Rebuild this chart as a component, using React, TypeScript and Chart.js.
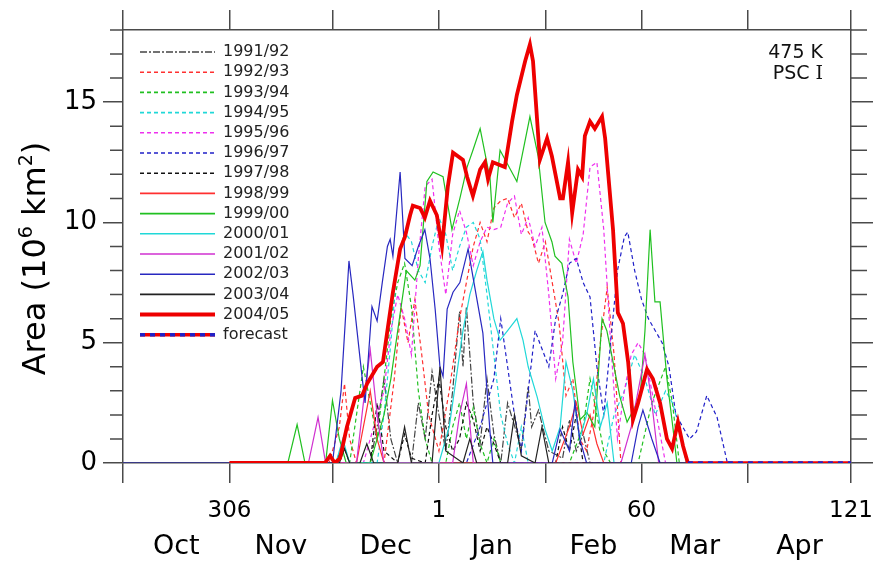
import { useEffect, useRef } from 'react';
import { Chart, registerables } from 'chart.js';

Chart.register(...registerables);

// x = days since 1 Oct 2004 (1 Oct = 0, 1 Nov = 31, 1 Jan = 92, 1 Mar = 151, 1 May = 212)
const MONTH_EDGES = [0, 31, 61, 92, 123, 151, 182, 212];
const DOY_LABELS = ['', '306', '', '1', '', '60', '', '121'];
const MONTH_MIDS = [15.5, 46, 76.5, 107.5, 137, 166.5, 197];
const MONTH_NAMES = ['Oct', 'Nov', 'Dec', 'Jan', 'Feb', 'Mar', 'Apr'];
const Y_MAJOR = [0, 5, 10, 15];
const Y_MINOR = [1, 2, 3, 4, 6, 7, 8, 9, 11, 12, 13, 14, 16, 17, 18];
const SEASONS = ['1991/92', '1992/93', '1993/94', '1994/95', '1995/96', '1996/97', '1997/98', '1998/99', '1999/00', '2000/01', '2001/02', '2002/03', '2003/04', '2004/05', 'forecast'];

const days9192 = [31, 72, 74, 76, 78, 80, 84, 86, 88, 90, 92, 94, 96, 98, 99, 100, 102, 104, 106, 108, 110, 112, 116, 118, 119, 121, 124, 128, 130, 132, 134, 136, 212];
const area9192 = [0, 0, 1.5, 3.5, 1.0, 0, 0, 2.5, 1.0, 3.8, 2.0, 0.5, 3.0, 6.3, 4.0, 6.5, 2.5, 0.8, 3.5, 1.2, 0, 2.5, 0.6, 3.2, 1.5, 2.2, 0.5, 0.2, 1.8, 0.5, 1.2, 0, 0];

const days9293 = [31, 60, 63, 64.5, 66, 68, 76, 79, 81, 83, 85, 87, 89, 92, 95, 98, 100, 102, 104, 106, 108, 110, 112, 114, 116, 118, 119, 121, 123, 125, 127, 129, 131, 133, 135, 137, 139, 141, 143, 145, 212];
const area9293 = [0, 0, 1.5, 3.3, 1.0, 0, 0, 3.5, 6.5, 5.0, 6.8, 4.5, 2.0, 0.5, 3.0, 6.0, 7.5, 9.0, 10.0, 9.2, 10.6, 10.9, 11.0, 10.2, 10.8, 9.6, 9.4, 8.3, 9.2, 7.5, 5.8, 2.8, 3.5, 1.0, 0.5, 2.0, 5.0, 7.3, 4.5, 0, 0];

const days9394 = [31, 66, 68, 70, 72, 74, 76, 78, 80, 82, 84, 86, 88, 90, 94, 96, 98, 100, 102, 104, 106, 108, 110, 130, 134, 136, 138, 140, 142, 150, 154, 158, 160, 162, 212];
const area9394 = [0, 0, 2.0, 4.0, 2.5, 1.0, 3.5, 6.0, 7.5, 8.3, 6.5, 3.0, 1.0, 0, 0, 1.5, 2.5, 1.0, 2.3, 0.8, 0, 1.0, 0, 0, 1.5, 3.5, 2.0, 0.5, 0, 0, 2.5, 4.0, 2.5, 0, 0];

const days9495 = [31, 74, 76, 78, 80, 82, 84, 86, 88, 90, 92, 94, 96, 98, 100, 102, 104, 106, 108, 110, 112, 114, 116, 118, 140, 143, 146, 149, 152, 155, 158, 160, 162, 164, 212];
const area9495 = [0, 0, 2.0, 5.0, 8.5, 9.6, 9.2, 8.0, 7.5, 9.0, 10.2, 9.5, 8.0, 9.0, 9.8, 10.0, 9.3, 7.0, 4.5, 2.0, 0.8, 0, 1.5, 0, 0, 2.0, 3.0, 4.5, 3.5, 2.0, 3.0, 2.5, 1.5, 0, 0];

const days9596 = [31, 70, 73, 76, 78, 80, 82, 84, 86, 88, 90, 92, 94, 96, 98, 100, 102, 104, 106, 108, 110, 112, 114, 116, 118, 120, 122, 124, 126, 128, 130, 132, 134, 136, 138, 140, 142, 144, 146, 148, 150, 152, 154, 156, 158, 212];
const area9596 = [0, 0, 1.5, 3.0, 5.5, 7.0, 6.0, 4.5, 8.5, 11.5, 11.8, 9.0, 7.0, 9.5, 10.5, 9.6, 8.2, 9.2, 9.8, 9.7, 9.8, 10.8, 11.1, 9.5, 10.2, 9.0, 9.8, 7.0, 3.5, 5.0, 9.3, 8.3, 9.5, 12.3, 12.5, 9.7, 5.0, 1.0, 3.0, 4.5, 5.0, 4.5, 3.0, 1.5, 0, 0];

const days9697 = [31, 100, 104, 108, 110, 112, 114, 116, 118, 120, 124, 126, 128, 130, 132, 134, 136, 138, 140, 142, 144, 146, 147, 149, 151, 153, 155, 157, 159, 161, 163, 165, 167, 170, 173, 176, 212];
const area9697 = [0, 0, 1.5, 3.5, 6.0, 4.0, 2.0, 0.5, 3.0, 5.5, 4.0, 6.0, 7.0, 8.3, 8.5, 7.5, 6.9, 4.0, 2.0, 5.0, 8.0, 9.4, 9.6, 8.0, 6.8, 6.0, 5.5, 5.0, 4.0, 2.0, 1.5, 1.0, 1.3, 2.8, 1.9, 0, 0];

const days9798 = [31, 62, 64, 66, 72, 74, 76, 80, 82, 84, 88, 90, 92, 94, 96, 98, 100, 102, 104, 106, 108, 110, 126, 128, 130, 132, 134, 212];
const area9798 = [0, 0, 0.8, 0, 0, 2.5, 0.5, 0, 1.2, 0.2, 0, 2.0, 3.5, 1.5, 0.5, 1.0, 2.5, 1.8, 0.5, 1.5, 0.8, 0, 0, 1.5, 0.5, 2.0, 0, 0];

const days9899 = [31, 68, 70, 72, 74, 76, 126, 130, 132, 134, 136, 138, 140, 212];
const area9899 = [0, 0, 1.5, 3.0, 1.0, 0, 0, 1.5, 2.5, 1.2, 2.0, 0.8, 0, 0];

const days9900 = [31, 48, 50.7, 53, 59, 61, 63, 65, 72, 76, 78, 80, 82.5, 85, 86.5, 88.5, 90.3, 93.2, 95.8, 98.1, 100.2, 101.9, 104, 106.9, 107.7, 109.8, 114.7, 118.5, 120.9, 122.9, 124.9, 125.8, 127.8, 129.6, 131, 133.1, 135.1, 137.4, 139.5, 140.9, 142.7, 144.7, 146.8, 150.6, 152, 153.5, 154.9, 156.4, 158.4, 160.2, 161.3, 212];
const area9900 = [0, 0, 1.6, 0, 0, 2.6, 1.0, 0, 0, 2.0, 3.5, 5.5, 8.0, 7.6, 8.2, 11.7, 12.1, 11.9, 9.7, 11.0, 12.3, 13.0, 13.9, 11.8, 10.0, 13.0, 11.7, 14.4, 12.75, 10.0, 9.2, 8.6, 8.3, 6.9, 4.2, 1.8, 2.1, 1.5, 6.0, 5.5, 4.2, 2.75, 1.7, 2.75, 5.5, 9.7, 6.7, 6.7, 3.5, 1.4, 0, 0];

const days0001 = [31, 62, 64, 66, 92, 95, 97, 99, 101, 103, 104.8, 106, 108, 109.8, 112, 114.7, 116.5, 118, 120.6, 122.9, 125, 127.3, 129, 131, 133, 135, 137, 139, 141, 143, 212];
const area0001 = [0, 0, 1.0, 0, 0, 1.5, 3.5, 5.5, 7.0, 8.0, 8.8, 7.6, 6.0, 5.1, 5.5, 6.0, 5.1, 4.0, 2.75, 1.4, 0.5, 1.5, 4.2, 3.0, 1.0, 2.0, 3.5, 1.5, 2.5, 0, 0];

const days0102 = [31, 54, 56.8, 59, 68, 70, 72, 74, 76, 96, 98, 100, 102, 145, 148, 150, 152, 154, 156, 212];
const area0102 = [0, 0, 1.9, 0, 0, 2.5, 4.7, 2.0, 0, 0, 2.0, 3.3, 0, 0, 1.5, 3.0, 4.5, 2.5, 0, 0];

const days0203 = [0, 61, 63.5, 65.8, 67, 69.6, 70.5, 72.5, 74, 75.5, 77, 77.8, 78.6, 80.7, 82.1, 84.2, 86, 87.9, 89.4, 90.9, 92.3, 93.2, 94.4, 96.1, 98.1, 100.5, 101.9, 104.8, 106.9, 107.7, 125, 127.3, 130, 131.6, 133, 135, 148, 150, 151.4, 154, 156.4, 212];
const area0203 = [0, 0, 3.0, 8.4, 7.0, 3.6, 2.5, 6.5, 5.9, 7.5, 9.0, 9.3, 8.6, 12.1, 8.5, 8.2, 9.0, 9.7, 8.5, 6.4, 4.0, 3.6, 6.4, 7.1, 7.5, 8.9, 7.75, 5.4, 1.25, 0, 0, 1.4, 0.5, 2.5, 1.0, 0, 0, 1.5, 2.2, 1.0, 0, 0];

const days0304 = [31, 63, 64.5, 66, 69, 71, 73, 80, 82, 84, 90, 92.3, 94, 99, 101, 103, 112, 114, 116, 120, 122, 124, 212];
const area0304 = [0, 0, 0.6, 0, 0, 0.8, 0, 0, 1.5, 0, 0, 4.0, 0.5, 0, 1.0, 0, 0, 2.0, 0.3, 0, 1.5, 0, 0];

const days0405 = [31, 58.8, 60.3, 61.7, 63.2, 65.2, 67.6, 69.6, 71.1, 74, 75.7, 76.9, 78.6, 80.7, 82.1, 83.6, 84.4, 86.5, 87.9, 89.4, 91.4, 92.9, 94.6, 96.1, 99, 100.2, 101.9, 104, 105.4, 106.3, 107.7, 111.2, 113.3, 114.7, 117.1, 118.5, 119.4, 121.4, 123.5, 124.9, 127.3, 128.1, 129.6, 130.8, 132.5, 133.7, 134.5, 136, 137.4, 139.5, 140.4, 142.7, 144.1, 145.6, 147.1, 148.5, 150, 152.6, 154.3, 156.4, 158.4, 159.9, 161.6, 163.1, 164.5];
const area0405 = [0, 0, 0.3, 0, 0.2, 1.5, 2.7, 2.8, 3.3, 4.0, 4.2, 5.4, 7.1, 8.9, 9.4, 10.3, 10.7, 10.6, 10.2, 10.9, 10.3, 9.0, 11.5, 12.9, 12.6, 11.9, 11.1, 12.2, 12.5, 11.8, 12.5, 12.3, 14.2, 15.3, 16.7, 17.4, 16.7, 12.6, 13.5, 12.75, 11.0, 11.0, 12.5, 10.4, 12.2, 11.9, 13.6, 14.2, 13.9, 14.4, 13.5, 9.7, 6.25, 5.8, 4.2, 1.8, 2.5, 3.9, 3.5, 2.5, 1.0, 0.6, 1.7, 0.7, 0];

const daysForecast = [164.5, 212];
const areaForecast = [0, 0];

const HIST_DAYS = [days9192, days9293, days9394, days9495, days9596, days9697, days9798, days9899, days9900, days0001, days0102, days0203, days0304];
const HIST_AREA = [area9192, area9293, area9394, area9495, area9596, area9697, area9798, area9899, area9900, area0001, area0102, area0203, area0304];

const COLORS = ['#444444', '#ff3030', '#20c020', '#20d8d8', '#ee30ee', '#2020c8', '#111111', '#ff3030', '#20c020', '#20d8d8', '#d030d0', '#2828c0', '#222222', '#ee0000'];
const DASHES: number[][] = [[7, 2, 2, 2], [4, 3], [4, 3], [4, 3], [4, 3], [4, 3], [4, 3], [], [], [], [], [], [], []];
const AXIS = '#4a4a4a';
const FONT = "'DejaVu Sans', 'Liberation Sans', Arial, sans-serif";

const pts = (d: number[], a: number[]) => d.map((x, i) => ({ x, y: a[i] }));
const noPad = (s: any, h: number) => { s.height = h; s.paddingLeft = 0; s.paddingRight = 0; };

// y-axis title pieces: [text, superscript?]
const Y_TITLE: [string, boolean][] = [['Area (10', false], ['6', true], [' km', false], ['2', true], [')', false]];

const decor = {
  id: 'decor',
  afterDraw(chart: any) {
    const ctx = chart.ctx as CanvasRenderingContext2D;
    const ys = chart.scales.y;
    const { left, right, top, bottom } = chart.chartArea;
    ctx.save();
    ctx.strokeStyle = AXIS;
    ctx.lineWidth = 1.5;
    Y_MINOR.forEach((v) => {
      const py = ys.getPixelForValue(v);
      ctx.beginPath();
      ctx.moveTo(left - 13, py);
      ctx.lineTo(left, py);
      ctx.moveTo(right, py);
      ctx.lineTo(right + 16, py);
      ctx.stroke();
    });
    // y title with real superscripts
    const fs = 32;
    const sfs = 19;
    const widths = Y_TITLE.map(([t, sup]) => {
      ctx.font = `${sup ? sfs : fs}px ${FONT}`;
      return ctx.measureText(t).width;
    });
    const total = widths.reduce((a, b) => a + b, 0);
    ctx.save();
    ctx.translate(33, (top + bottom) / 2 + 12);
    ctx.rotate(-Math.PI / 2);
    ctx.fillStyle = '#000';
    ctx.textAlign = 'left';
    ctx.textBaseline = 'alphabetic';
    let cx = -total / 2;
    Y_TITLE.forEach(([t, sup], k) => {
      ctx.font = `${sup ? sfs : fs}px ${FONT}`;
      ctx.fillText(t, cx, sup ? fs * 0.36 - 13 : fs * 0.36);
      cx += widths[k];
    });
    ctx.restore();
    // legend
    const lx0 = left + 17;
    const lx1 = left + 92;
    const tx = left + 100;
    ctx.font = `16px ${FONT}`;
    ctx.textBaseline = 'middle';
    ctx.textAlign = 'left';
    SEASONS.forEach((name, i) => {
      const yy = 52 + i * 20.2;
      ctx.setLineDash([]);
      if (i < 14) {
        ctx.strokeStyle = COLORS[i];
        ctx.lineWidth = i === 13 ? 4 : 1.6;
        ctx.setLineDash(DASHES[i]);
        ctx.beginPath();
        ctx.moveTo(lx0, yy);
        ctx.lineTo(lx1, yy);
        ctx.stroke();
      } else {
        ctx.strokeStyle = '#ee0000';
        ctx.lineWidth = 3.5;
        ctx.beginPath();
        ctx.moveTo(lx0, yy);
        ctx.lineTo(lx1, yy);
        ctx.stroke();
        ctx.strokeStyle = '#2020c8';
        ctx.setLineDash([5, 5]);
        ctx.beginPath();
        ctx.moveTo(lx0, yy);
        ctx.lineTo(lx1, yy);
        ctx.stroke();
      }
      ctx.setLineDash([]);
      ctx.fillStyle = '#222';
      ctx.fillText(name, tx, yy);
    });
    // annotation
    ctx.font = `19px ${FONT}`;
    ctx.textAlign = 'right';
    ctx.fillStyle = '#111';
    ctx.fillText('475 K', 823, 53);
    ctx.font = `19px 'DejaVu Serif', serif`;
    const iw = ctx.measureText('I').width;
    ctx.fillText('I', 823, 74);
    ctx.font = `19px ${FONT}`;
    ctx.fillText('PSC ', 823 - iw, 74);
    ctx.restore();
  },
};

export default function App() {
  const ref = useRef<HTMLCanvasElement>(null);
  useEffect(() => {
    const canvas = ref.current;
    if (!canvas) return;
    const datasets: any[] = [];
    HIST_DAYS.forEach((d, i) => {
      datasets.push({
        label: SEASONS[i],
        data: pts(d, HIST_AREA[i]),
        borderColor: COLORS[i],
        borderDash: DASHES[i],
        borderWidth: 1.2,
        pointRadius: 0,
        fill: false,
        tension: 0,
        order: 100 - i,
      });
    });
    datasets.push({
      label: SEASONS[13],
      data: pts(days0405, area0405),
      borderColor: COLORS[13],
      borderWidth: 3.8,
      pointRadius: 0,
      fill: false,
      tension: 0,
      order: 2,
    });
    datasets.push({
      label: SEASONS[14],
      data: pts(daysForecast, areaForecast),
      borderColor: '#ee0000',
      borderWidth: 3.5,
      pointRadius: 0,
      fill: false,
      order: 1,
    });
    datasets.push({
      label: SEASONS[14] + ' ',
      data: pts(daysForecast, areaForecast),
      borderColor: '#2020c8',
      borderDash: [5, 5],
      borderWidth: 3.5,
      pointRadius: 0,
      fill: false,
      order: 0,
    });
    const chart = new Chart(canvas, {
      type: 'line',
      data: { datasets },
      plugins: [decor],
      options: {
        responsive: false,
        animation: false,
        events: [],
        layout: { padding: 0 },
        plugins: { legend: { display: false }, tooltip: { enabled: false } },
        scales: {
          x: {
            type: 'linear',
            position: 'bottom',
            min: 0,
            max: 212,
            weight: 0,
            afterBuildTicks: (s: any) => { s.ticks = MONTH_EDGES.map((v) => ({ value: v })); },
            afterFit: (s: any) => noPad(s, 60),
            ticks: { autoSkip: false, maxRotation: 0, padding: 14, color: '#000', font: { family: FONT, size: 23 }, callback: (_v: any, i: number) => DOY_LABELS[i] },
            grid: { drawOnChartArea: false, drawTicks: true, tickLength: 20, color: AXIS, lineWidth: 1.5 },
            border: { display: true, color: AXIS, width: 1.5 },
          },
          xm: {
            type: 'linear',
            position: 'bottom',
            min: 0,
            max: 212,
            weight: 1,
            afterBuildTicks: (s: any) => { s.ticks = MONTH_MIDS.map((v) => ({ value: v })); },
            afterFit: (s: any) => noPad(s, 41),
            ticks: { autoSkip: false, maxRotation: 0, padding: 0, color: '#000', font: { family: FONT, size: 27 }, callback: (_v: any, i: number) => MONTH_NAMES[i] },
            grid: { display: false },
            border: { display: false },
          },
          xt: {
            type: 'linear',
            position: 'top',
            min: 0,
            max: 212,
            afterBuildTicks: (s: any) => { s.ticks = MONTH_EDGES.map((v) => ({ value: v })); },
            afterFit: (s: any) => noPad(s, 30),
            ticks: { display: false },
            grid: { drawOnChartArea: false, drawTicks: true, tickLength: 20, color: AXIS, lineWidth: 1.5 },
            border: { display: true, color: AXIS, width: 1.5 },
          },
          y: {
            type: 'linear',
            position: 'left',
            min: 0,
            max: 18,
            afterBuildTicks: (s: any) => { s.ticks = Y_MAJOR.map((v) => ({ value: v })); },
            afterFit: (s: any) => { s.width = 123; s.paddingTop = 0; s.paddingBottom = 0; },
            ticks: { padding: 6, color: '#000', font: { family: FONT, size: 26 } },
            grid: { drawOnChartArea: false, drawTicks: true, tickLength: 20, color: AXIS, lineWidth: 1.5 },
            border: { display: true, color: AXIS, width: 1.5 },
          },
          yr: {
            type: 'linear',
            position: 'right',
            min: 0,
            max: 18,
            afterBuildTicks: (s: any) => { s.ticks = Y_MAJOR.map((v) => ({ value: v })); },
            afterFit: (s: any) => { s.width = 24; s.paddingTop = 0; s.paddingBottom = 0; },
            ticks: { display: false },
            grid: { drawOnChartArea: false, drawTicks: true, tickLength: 22, color: AXIS, lineWidth: 1.5 },
            border: { display: true, color: AXIS, width: 1.5 },
          },
        },
      } as any,
    });
    return () => chart.destroy();
  }, []);
  return (
    <div style={{ position: 'fixed', left: 0, top: 0, width: 875, height: 564, background: '#fff' }}>
      <canvas ref={ref} width={875} height={564} style={{ width: 875, height: 564, display: 'block' }} />
    </div>
  );
}
